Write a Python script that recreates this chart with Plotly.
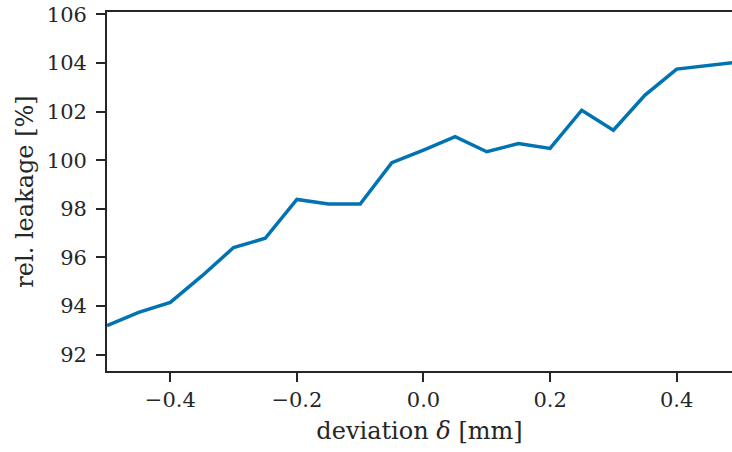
import plotly.graph_objects as go

# deviation of the gap from nominal [mm] and the resulting relative leakage [%]
deviation = [-0.5, -0.45, -0.4, -0.35, -0.3, -0.25, -0.2, -0.15, -0.1, -0.05,
             0.0, 0.05, 0.1, 0.15, 0.2, 0.25, 0.3, 0.35, 0.4, 0.45, 0.5]
leakage = [93.2, 93.74, 94.15, 95.24, 96.41, 96.79, 98.39, 98.2, 98.2, 99.9,
           100.42, 100.97, 100.35, 100.69, 100.49, 102.06, 101.24, 102.68, 103.75, 103.88, 104.05]

x_ticks = [-0.4, -0.2, 0.0, 0.2, 0.4]
x_tick_text = ["\u22120.4", "\u22120.2", "0.0", "0.2", "0.4"]
y_ticks = [92, 94, 96, 98, 100, 102, 104, 106]

font_family = "DejaVu Serif"
ink = "#262626"

fig = go.Figure()
fig.add_trace(go.Scatter(
    x=deviation, y=leakage, mode="lines",
    line=dict(color="#0173B2", width=3.5),
    showlegend=False, cliponaxis=True,
))

fig.update_layout(
    width=732, height=452,
    margin=dict(l=107, r=0, t=12, b=81),
    paper_bgcolor="white", plot_bgcolor="white",
    font=dict(family=font_family, size=21, color=ink),
)
fig.update_xaxes(
    range=[-0.5, 0.4874],
    tickvals=x_ticks, ticktext=x_tick_text,
    showgrid=False, zeroline=False,
    showline=True, linecolor=ink, linewidth=1.8, mirror=True,
    ticks="outside", ticklen=9, tickwidth=1.8, tickcolor=ink,
    tickfont=dict(size=21),
    title=dict(text="deviation <i>\u03b4</i> [mm]", font=dict(size=24), standoff=11),
)
fig.update_yaxes(
    range=[91.33, 106.1],
    tickvals=y_ticks,
    showgrid=False, zeroline=False,
    showline=True, linecolor=ink, linewidth=1.8,
    ticks="outside", ticklen=9, tickwidth=1.8, tickcolor=ink,
    tickfont=dict(size=21), ticklabelstandoff=5,
    title=dict(text="rel. leakage [%]", font=dict(size=24), standoff=6),
)

fig.write_html("out.html")
